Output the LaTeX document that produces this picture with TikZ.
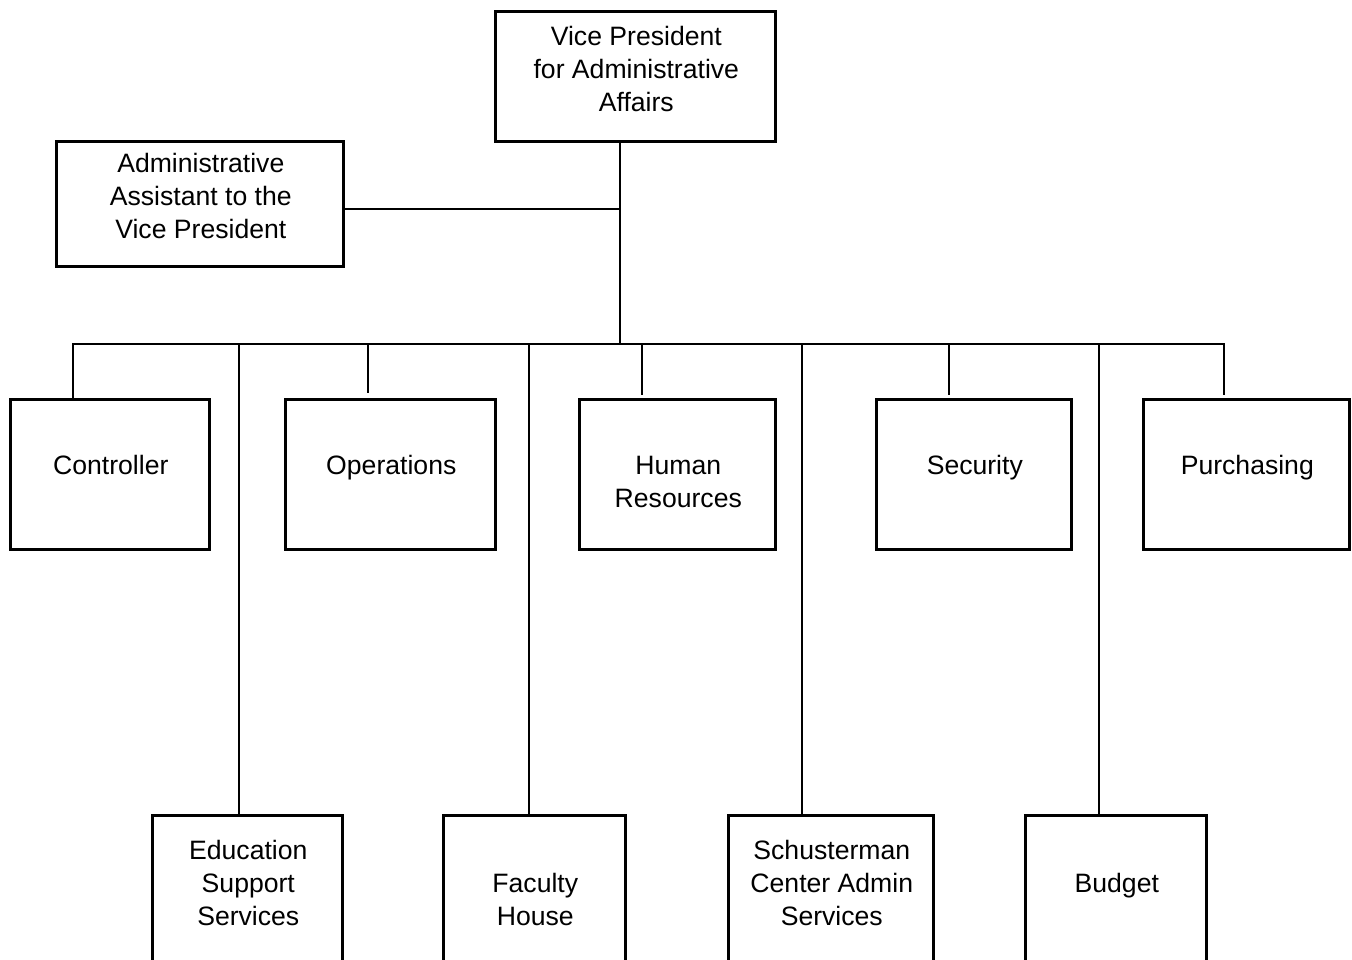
\documentclass[tikz,border=0pt]{standalone}
\usepackage{fontspec}
\setmainfont{Liberation Sans}
\usetikzlibrary{calc}
\begin{document}
\begin{tikzpicture}[x=1pt,y=-1pt,
  box/.style={draw, line width=2.6pt, inner sep=0pt, anchor=north west},
  lbl/.style={align=center, font=\fontsize{26.6}{33}\selectfont, inner sep=0pt},
  link/.style={line width=1.8pt}]
\useasboundingbox (0,0) rectangle (1352,960);
\clip (0,0) rectangle (1352,960);

% boxes
\node[box, minimum width=280, minimum height=130] (vp) at (494,10) {};
\node[box, minimum width=287, minimum height=125] (aa) at (55,140) {};
\node[box, minimum width=199, minimum height=150] (ctrl) at (9,398) {};
\node[box, minimum width=210, minimum height=150] (ops) at (284,398) {};
\node[box, minimum width=196, minimum height=150] (hr) at (578,398) {};
\node[box, minimum width=195, minimum height=150] (sec) at (875,398) {};
\node[box, minimum width=206, minimum height=150] (pur) at (1142,398) {};
\node[box, minimum width=190, minimum height=200] (edu) at (151,814) {};
\node[box, minimum width=182, minimum height=200] (fac) at (442,814) {};
\node[box, minimum width=205, minimum height=200] (sch) at (727,814) {};
\node[box, minimum width=181, minimum height=200] (bud) at (1024,814) {};

% labels
\node[lbl] (tvp) at ($(vp.north)+(1,59)$) {Vice President\\for Administrative\\Affairs};
\node[lbl] (taa) at ($(aa.north)+(1,56)$) {Administrative\\Assistant to the\\Vice President};
\node[lbl] (tctrl) at ($(ctrl.north)+(1,67)$) {Controller};
\node[lbl] (tops) at ($(ops.north)+(1,70)$) {Operations};
\node[lbl] (thr) at ($(hr.north)+(1,84)$) {Human\\Resources};
\node[lbl] (tsec) at ($(sec.north)+(1,70)$) {Security};
\node[lbl] (tpur) at ($(pur.north)+(1,70)$) {Purchasing};
\node[lbl] (tedu) at ($(edu.north)+(1,69)$) {Education\\Support\\Services};
\node[lbl] (tfac) at ($(fac.north)+(1,85.5)$) {Faculty\\House};
\node[lbl] (tsch) at ($(sch.north)+(1,69)$) {Schusterman\\Center Admin\\Services};
\node[lbl] (tbud) at ($(bud.north)+(1,72)$) {Budget};

% connector joints
\coordinate (trunk) at (620,344);
\coordinate (aajoin) at (620,209);
\coordinate (busL) at (72,344);
\coordinate (busR) at (1225,344);
\coordinate (sCtrl) at (73,344);
\coordinate (sOps) at (368,344);
\coordinate (sHr) at (642,344);
\coordinate (sSec) at (949,344);
\coordinate (sPur) at (1224,344);
\coordinate (sEdu) at (239,344);
\coordinate (sFac) at (529,344);
\coordinate (sSch) at (802,344);
\coordinate (sBud) at (1099,344);

% connectors
\draw[link] (vp.south -| trunk) -- (trunk);
\draw[link] (aajoin -| aa.east) -- (aajoin);
\draw[link] (busL) -- (busR);
\draw[link] (sCtrl) -- (sCtrl |- ctrl.north);
\draw[link] (sOps) -- ($(sOps |- ops.north)+(0,-5)$);
\draw[link] (sHr) -- ($(sHr |- hr.north)+(0,-3)$);
\draw[link] (sSec) -- ($(sSec |- sec.north)+(0,-3)$);
\draw[link] (sPur) -- ($(sPur |- pur.north)+(0,-3)$);
\draw[link] (sEdu) -- (sEdu |- edu.north);
\draw[link] (sFac) -- (sFac |- fac.north);
\draw[link] (sSch) -- (sSch |- sch.north);
\draw[link] (sBud) -- (sBud |- bud.north);
\end{tikzpicture}
\end{document}
